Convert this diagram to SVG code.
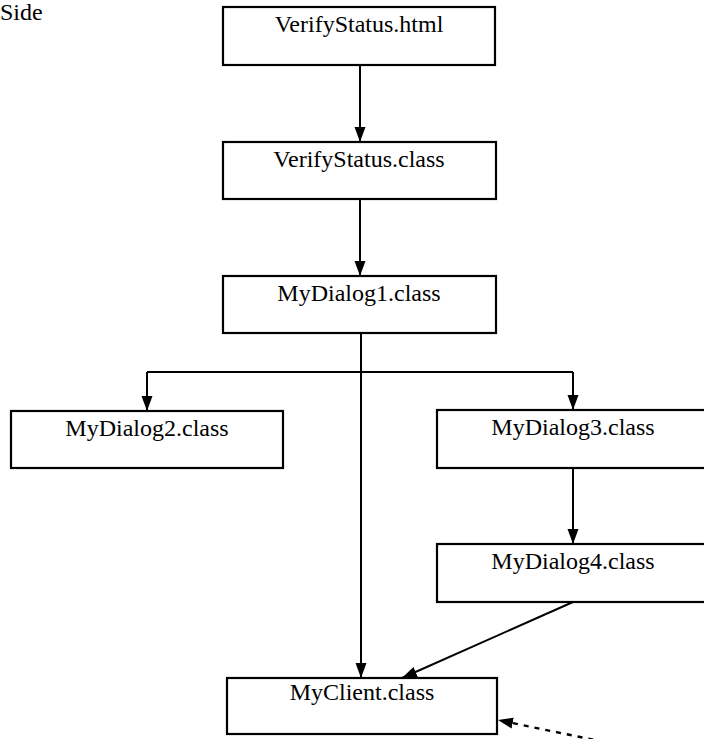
<svg xmlns="http://www.w3.org/2000/svg" width="704" height="739" viewBox="0 0 704 739">
  <style>
    .box { fill: #ffffff; stroke: #000000; stroke-width: 2.2; }
    .label { font-family: "Liberation Serif", "Times New Roman", serif; font-size: 24px; fill: #000000; text-anchor: middle; }
    .edge { fill: none; stroke: #000000; stroke-width: 2; }
    .dashed { stroke-dasharray: 5 6; stroke-width: 2.4; }
  </style>
  <defs>
    <marker id="arrow" markerUnits="userSpaceOnUse" markerWidth="16" markerHeight="16" viewBox="0 0 16 16" refX="15" refY="8" orient="auto">
      <path d="M0,2.5 L15,8 L0,13.5 Z" fill="#000000"/>
    </marker>
  </defs>

  <rect width="704" height="739" fill="#ffffff"/>

  <text class="label" x="0" y="20" style="text-anchor:start">Side</text>

  <g id="connectors">
    <line class="edge" x1="360" y1="65" x2="360" y2="142" marker-end="url(#arrow)"/>
    <line class="edge" x1="360" y1="199" x2="360" y2="276" marker-end="url(#arrow)"/>
    <line class="edge" x1="361" y1="333" x2="361" y2="678" marker-end="url(#arrow)"/>
    <line class="edge" x1="147" y1="372" x2="573" y2="372"/>
    <line class="edge" x1="147" y1="372" x2="147" y2="411" marker-end="url(#arrow)"/>
    <line class="edge" x1="573" y1="372" x2="573" y2="410" marker-end="url(#arrow)"/>
    <line class="edge" x1="573" y1="468" x2="573" y2="544" marker-end="url(#arrow)"/>
    <line class="edge" x1="573" y1="602" x2="402" y2="678" marker-end="url(#arrow)"/>
    <line class="edge dashed" x1="604" y1="742" x2="498" y2="720" marker-end="url(#arrow)"/>
  </g>

  <g id="verifystatus-html">
    <rect class="box" x="223" y="7" width="272" height="58"/>
    <text class="label" x="359" y="32">VerifyStatus.html</text>
  </g>

  <g id="verifystatus-class">
    <rect class="box" x="223" y="142" width="273" height="57"/>
    <text class="label" x="359" y="167">VerifyStatus.class</text>
  </g>

  <g id="mydialog1">
    <rect class="box" x="223" y="276" width="273" height="57"/>
    <text class="label" x="359" y="301">MyDialog1.class</text>
  </g>

  <g id="mydialog2">
    <rect class="box" x="11" y="411" width="272" height="57"/>
    <text class="label" x="147" y="436">MyDialog2.class</text>
  </g>

  <g id="mydialog3">
    <rect class="box" x="437" y="410" width="272" height="58"/>
    <text class="label" x="573" y="435">MyDialog3.class</text>
  </g>

  <g id="mydialog4">
    <rect class="box" x="437" y="544" width="272" height="58"/>
    <text class="label" x="573" y="569">MyDialog4.class</text>
  </g>

  <g id="myclient">
    <rect class="box" x="227" y="678" width="270" height="56"/>
    <text class="label" x="362" y="700">MyClient.class</text>
  </g>
</svg>
